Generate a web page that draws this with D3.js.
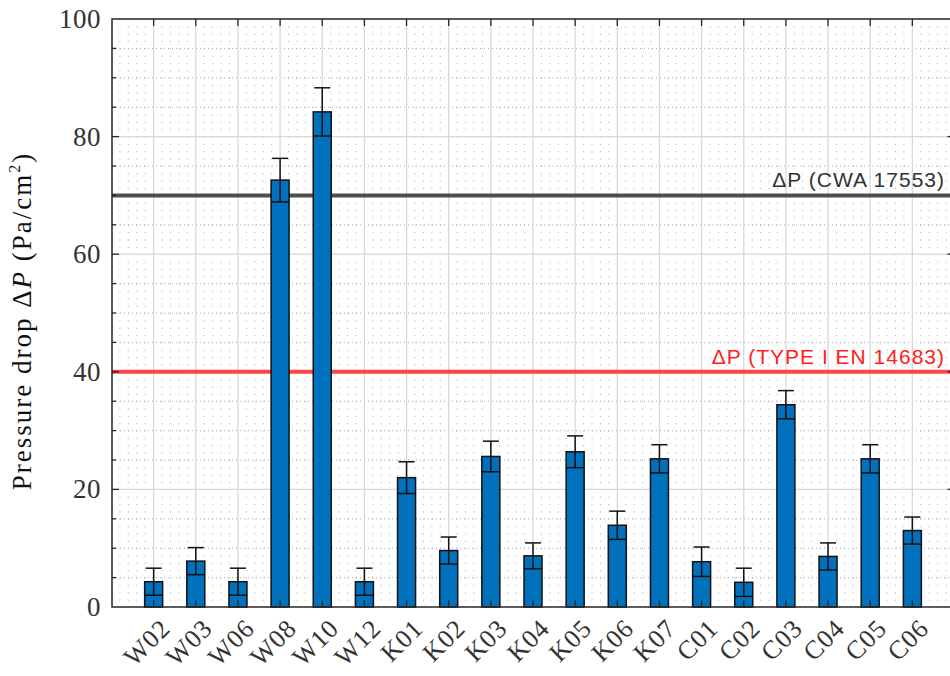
<!DOCTYPE html>
<html><head><meta charset="utf-8">
<script src="https://cdn.jsdelivr.net/npm/d3@7"></script>
<style>body{margin:0;background:#fff;} svg{display:block;}</style>
</head><body>
<script>
const categories = ["W02","W03","W06","W08","W10","W12","K01","K02","K03","K04","K05","K06","K07","C01","C02","C03","C04","C05","C06"];
const values = [4.3, 7.8, 4.3, 72.6, 84.2, 4.3, 22.0, 9.6, 25.6, 8.7, 26.4, 13.9, 25.2, 7.7, 4.2, 34.4, 8.6, 25.2, 13.0];
const errors = [2.3, 2.3, 2.3, 3.7, 4.1, 2.3, 2.7, 2.3, 2.6, 2.2, 2.7, 2.4, 2.4, 2.5, 2.4, 2.4, 2.3, 2.4, 2.3];
const yTicks = [0, 20, 40, 60, 80, 100];
const refLines = [
  {value: 70, label: "ΔP (CWA 17553)", color: "#3c3c3c", lab: "#333"},
  {value: 40, label: "ΔP (TYPE I EN 14683)", color: "#ff3333", lab: "#ff2020"}
];

const W = 950, H = 676;
const svg = d3.select("body").append("svg").attr("width", W).attr("height", H);
const x = d3.scaleLinear().domain([0, 20]).range([111.5, 954.5]);
const y = d3.scaleLinear().domain([0, 100]).range([607, 19]);
const L = 112, R = 954.5, T = 19, B = 607;
const serif = "'Liberation Serif', 'Times New Roman', serif";

const g = svg.append("g");
// minor grid vertical (every 0.2)
const minorX = d3.range(1, 100).map(d => d / 5).filter(d => Math.abs(d - Math.round(d)) > 1e-6);
g.selectAll(".mx").data(minorX).join("line")
  .attr("x1", d => x(d)).attr("x2", d => x(d)).attr("y1", T).attr("y2", B)
  .attr("stroke", "#a8a8a8").attr("stroke-width", 1).attr("stroke-dasharray", "1,6.35");
// minor grid horizontal (every 5)
const minorY = d3.range(5, 100, 5).filter(d => d % 20 !== 0);
g.selectAll(".my").data(minorY).join("line")
  .attr("x1", L).attr("x2", R).attr("y1", d => y(d)).attr("y2", d => y(d))
  .attr("stroke", "#a8a8a8").attr("stroke-width", 1).attr("stroke-dasharray", "1,3");
// major grid
g.selectAll(".gx").data(d3.range(1, 20)).join("line")
  .attr("x1", d => x(d)).attr("x2", d => x(d)).attr("y1", T).attr("y2", B)
  .attr("stroke", "#d8d8d8").attr("stroke-width", 1.3);
g.selectAll(".gy").data(yTicks.slice(1, -1)).join("line")
  .attr("x1", L).attr("x2", R).attr("y1", d => y(d)).attr("y2", d => y(d))
  .attr("stroke", "#d8d8d8").attr("stroke-width", 1.3);

// reference lines
refLines.forEach(r => {
  svg.append("line").attr("x1", L).attr("x2", R).attr("y1", y(r.value)).attr("y2", y(r.value))
    .attr("stroke", r.color).attr("stroke-width", 4).attr("opacity", 0.9);
  svg.append("text").attr("x", 945).attr("y", y(r.value) - 8).attr("text-anchor", "end")
    .attr("font-family", "'Liberation Sans', Arial, sans-serif").attr("font-size", 21)
    .attr("letter-spacing", 1).attr("fill", r.lab).text(r.label);
});

// bars
const bw = 18;
const idx = categories.map((c, i) => i);
svg.selectAll(".bar").data(idx).join("rect")
  .attr("x", i => x(i + 1) - bw / 2).attr("width", bw)
  .attr("y", i => y(values[i])).attr("height", i => y(0) - y(values[i]))
  .attr("fill", "#0072BD").attr("stroke", "#111").attr("stroke-width", 1.5);
// error bars
const cap = 16;
const eb = svg.append("g").attr("stroke", "#111").attr("stroke-width", 1.5);
eb.selectAll(".ev").data(idx).join("line")
  .attr("x1", i => x(i + 1)).attr("x2", i => x(i + 1))
  .attr("y1", i => y(values[i] - errors[i])).attr("y2", i => y(values[i] + errors[i]));
eb.selectAll(".et").data(idx).join("line")
  .attr("x1", i => x(i + 1) - cap / 2).attr("x2", i => x(i + 1) + cap / 2)
  .attr("y1", i => y(values[i] + errors[i])).attr("y2", i => y(values[i] + errors[i]));
eb.selectAll(".eb").data(idx).join("line")
  .attr("x1", i => x(i + 1) - bw / 2).attr("x2", i => x(i + 1) + bw / 2)
  .attr("y1", i => y(values[i] - errors[i])).attr("y2", i => y(values[i] - errors[i]));

// ticks
const tk = svg.append("g").attr("stroke", "#262626").attr("stroke-width", 1.3);
d3.range(1, 20).forEach(d => {
  tk.append("line").attr("x1", x(d)).attr("x2", x(d)).attr("y1", T).attr("y2", T + 7);
  tk.append("line").attr("x1", x(d)).attr("x2", x(d)).attr("y1", B).attr("y2", B - 7);
});
d3.range(5, 100, 5).forEach(d => {
  const len = d % 20 === 0 ? 7 : 4;
  tk.append("line").attr("x1", L).attr("x2", L + len).attr("y1", y(d)).attr("y2", y(d));
  tk.append("line").attr("x1", R).attr("x2", R - len).attr("y1", y(d)).attr("y2", y(d));
});
// frame
svg.append("rect").attr("x", L).attr("y", T).attr("width", R - L).attr("height", B - T)
  .attr("fill", "none").attr("stroke", "#262626").attr("stroke-width", 1.5);

// y tick labels
svg.selectAll(".yl").data(yTicks).join("text")
  .attr("x", 101).attr("y", d => y(d) + 9).attr("text-anchor", "end")
  .attr("font-family", serif).attr("font-size", 27).attr("letter-spacing", 0.5)
  .attr("fill", "#333").text(d => d);

// x tick labels
svg.selectAll(".xl").data(idx).join("text")
  .attr("transform", i => `translate(${x(i + 1) + 18},${630}) rotate(-45)`)
  .attr("text-anchor", "end")
  .attr("font-family", serif).attr("font-size", 26).attr("letter-spacing", 0.8)
  .attr("fill", "#333").text(i => categories[i]);

// y label
const yl = svg.append("text").attr("transform", `translate(31,${321}) rotate(-90)`)
  .attr("text-anchor", "middle")
  .attr("font-family", serif).attr("font-size", 27).attr("letter-spacing", 2)
  .attr("fill", "#111");
yl.append("tspan").text("Pressure drop Δ");
yl.append("tspan").attr("font-style", "italic").text("P");
yl.append("tspan").text(" (Pa/cm");
yl.append("tspan").attr("font-size", 16).attr("dy", -11).text("2");
yl.append("tspan").attr("dy", 11).text(")");
</script>
</body></html>
